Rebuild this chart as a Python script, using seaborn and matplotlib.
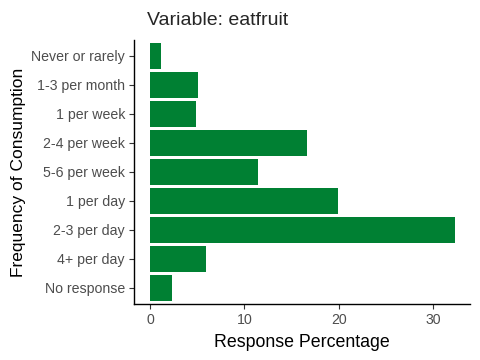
import matplotlib
matplotlib.use("Agg")
import matplotlib.pyplot as plt
import seaborn as sns
import pandas as pd

# ==========================================
# Data
# ==========================================
categories = ["Never or rarely", "1-3 per month", "1 per week", "2-4 per week",
              "5-6 per week", "1 per day", "2-3 per day", "4+ per day", "No response"]
percentages = [1.13, 5.06, 4.85, 16.6, 11.4, 19.9, 32.3, 5.9, 2.3]
x_ticks = [0, 10, 20, 30]

df = pd.DataFrame({"category": categories, "pct": percentages})

# ==========================================
# Plot
# ==========================================
sns.set_style("white")
plt.rcParams["font.family"] = ["Liberation Sans", "DejaVu Sans"]

fig = plt.figure(figsize=(4.8, 3.6), dpi=100)
ax = fig.add_axes([0.279, 0.156, 0.700, 0.733])

sns.barplot(data=df, x="pct", y="category", order=categories,
            color="#008033", saturation=1, width=0.9, linewidth=0, ax=ax)

ax.set_xlim(-1.7, 33.9)
ax.set_ylim(8.55, -0.55)
ax.set_xticks(x_ticks)
ax.set_xticklabels([str(t) for t in x_ticks])

ax.set_xlabel("Response Percentage", fontsize=12.8, color="black", labelpad=5)
ax.set_ylabel("Frequency of Consumption", fontsize=12.5, color="black", labelpad=4)
ax.set_title("Variable: eatfruit", fontsize=14, loc="left", x=0.04, pad=11)

for side in ["top", "right"]:
    ax.spines[side].set_visible(False)
for side in ["left", "bottom"]:
    ax.spines[side].set_color("black")
    ax.spines[side].set_linewidth(1.0)

ax.tick_params(axis="both", which="both", length=3.5, width=0.8, color="#333333",
               labelsize=10.2, labelcolor="#4D4D4D", left=True, bottom=True, pad=3)

fig.savefig("out.png", dpi=100)
plt.close(fig)
